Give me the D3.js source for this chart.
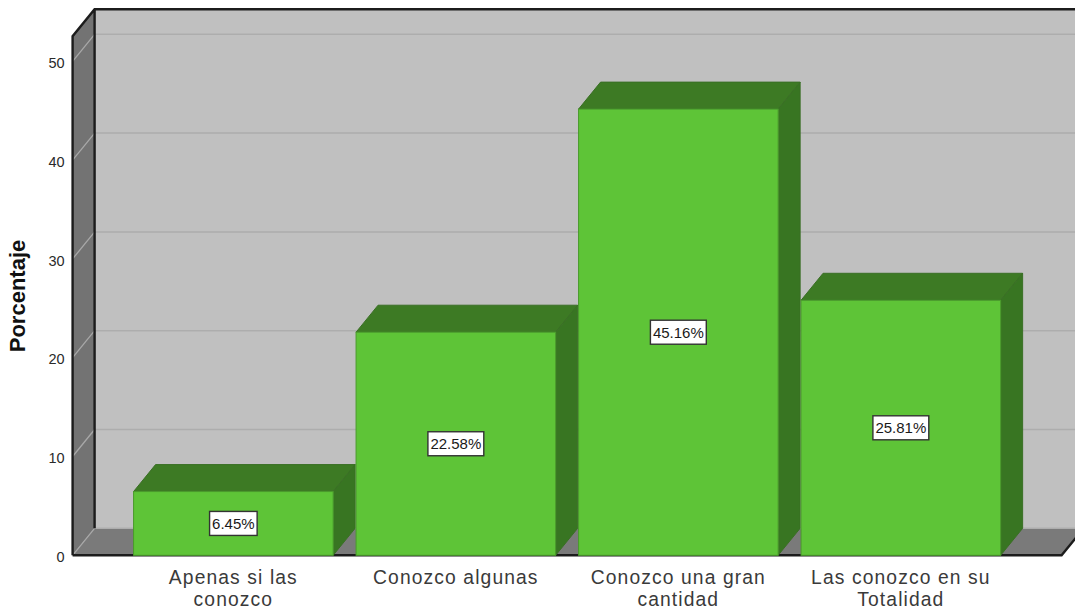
<!DOCTYPE html>
<html><head><meta charset="utf-8">
<script src="https://cdnjs.cloudflare.com/ajax/libs/d3/7.8.5/d3.min.js"></script>
<style>html,body{margin:0;padding:0;background:#fff;overflow:hidden}svg{display:block}text{font-family:"Liberation Sans",Arial,sans-serif}</style>
</head><body><svg id="c" width="1075" height="610"></svg>
<script>
const categories = [["Apenas si las","conozco"],["Conozco algunas"],["Conozco una gran","cantidad"],["Las conozco en su","Totalidad"]];
const values = [6.45,22.58,45.16,25.81];
const valueLabels = ["6.45%","22.58%","45.16%","25.81%"];
const tickValues = [0,10,20,30,40,50];
const yTitle = "Porcentaje";

const svg = d3.select("#c");
const dx = 22, dy = -27;
const x = d3.scaleBand().domain(d3.range(categories.length)).range([72.6,1061.6]).paddingInner(0.103).paddingOuter(0.274);
const y = d3.scaleLinear().domain([0,52.53]).range([555.3,36.3]);
const [x0,x1] = x.range(), [y0,y1] = y.range();
const poly = pts => pts.map(p=>p.join(",")).join(" ");

// walls
svg.append("polygon").attr("points",poly([[x0,y1],[x0+dx,y1+dy],[x0+dx,y0+dy],[x0,y0]])).attr("fill","#737373");
svg.append("rect").attr("x",x0+dx).attr("y",y1+dy).attr("width",x1-x0).attr("height",y0-y1).attr("fill","#c0c0c0");
svg.append("polygon").attr("points",poly([[x0,y0],[x0+dx,y0+dy],[x1+dx,y0+dy],[x1,y0]])).attr("fill","#7a7a7a");

// gridlines
svg.append("g").selectAll("line").data(tickValues).join("line")
  .attr("x1",x0+dx).attr("x2",x1+dx).attr("y1",d=>y(d)+dy).attr("y2",d=>y(d)+dy)
  .attr("stroke","#adadad").attr("stroke-width",1.5);
svg.append("g").selectAll("line").data(tickValues).join("line")
  .attr("x1",x0).attr("x2",x0+dx).attr("y1",d=>y(d)).attr("y2",d=>y(d)+dy)
  .attr("stroke","#a8a8a8").attr("stroke-width",1.3);

// frame
const frame = "#1c1c1c";
svg.append("path").attr("fill","none").attr("stroke",frame).attr("stroke-width",2.4)
  .attr("d",`M${x0},${y0}V${y1}L${x0+dx},${y1+dy}H1075M${x0+dx},${y1+dy}V${y0+dy}M${x0},${y0}H${x1}L${x1+dx},${y0+dy}`);

// bars
const front="#5ec437", dark="#3d7a24", side="#387522", edge="#3a6f25";
const bars = svg.append("g").selectAll("g").data(values).join("g");
bars.each(function(v,i){
  const g=d3.select(this), l=x(i), r=l+x.bandwidth(), t=y(v);
  g.append("polygon").attr("points",poly([[l,t],[l+dx,t+dy],[r+dx,t+dy],[r,t]])).attr("fill",dark).attr("stroke",edge).attr("stroke-width",1);
  g.append("polygon").attr("points",poly([[r,t],[r+dx,t+dy],[r+dx,y0+dy],[r,y0]])).attr("fill",side).attr("stroke",edge).attr("stroke-width",1);
  g.append("rect").attr("x",l).attr("y",t).attr("width",r-l).attr("height",y0-t).attr("fill",front).attr("stroke","#4a9a2c").attr("stroke-width",1);
});

// value labels
bars.each(function(v,i){
  const g=d3.select(this), cx=x(i)+x.bandwidth()/2, cy=y(v/2);
  const t=g.append("text").attr("x",cx).attr("y",cy+5.5).attr("text-anchor","middle").attr("font-size",15).attr("fill","#1a1a1a").text(valueLabels[i]);
  const w=t.node().getComputedTextLength()+5;
  g.insert("rect","text").attr("x",cx-w/2).attr("y",cy-12).attr("width",w).attr("height",24).attr("fill","#fff").attr("stroke","#333").attr("stroke-width",1.4);
});

// y axis
const ya = svg.append("g").attr("transform",`translate(${x0},1.5)`).call(d3.axisLeft(y).tickValues(tickValues).tickSize(0).tickPadding(8));
ya.select(".domain").remove();
ya.selectAll("text").attr("font-size",14.5).attr("fill","#2a2a2a").style("font-family",'"Liberation Sans",Arial,sans-serif');

// category labels
const cat = svg.append("g").selectAll("text").data(categories).join("text")
  .attr("text-anchor","middle").attr("font-size",19.3).attr("letter-spacing",1.1).attr("fill","#3a3a3a");
cat.each(function(lines,i){
  d3.select(this).selectAll("tspan").data(lines).join("tspan")
    .attr("x",x(i)+x.bandwidth()/2).attr("y",(d,j)=>583.7+j*22.3).text(d=>d);
});

svg.append("text").attr("transform","translate(25,296) rotate(-90)").attr("text-anchor","middle")
  .attr("font-size",22).attr("font-weight","bold").attr("fill","#111").text(yTitle);
</script></body></html>
